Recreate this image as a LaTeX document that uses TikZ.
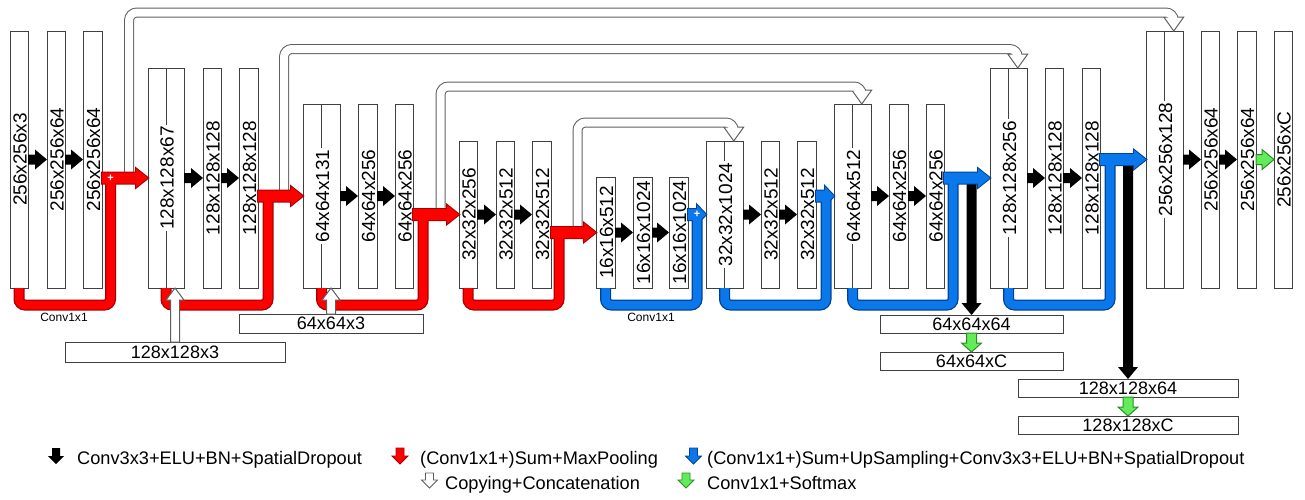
\documentclass[tikz,border=0pt]{standalone}
\usepackage{fontspec}
\setmainfont{Liberation Sans}
\usetikzlibrary{calc}
\definecolor{boxline}{RGB}{64,64,64}
\definecolor{skipline}{RGB}{95,95,95}
\definecolor{redf}{RGB}{255,0,0}
\definecolor{redo}{RGB}{165,0,0}
\definecolor{bluef}{RGB}{10,120,235}
\definecolor{blueo}{RGB}{0,65,150}
\definecolor{greenf}{RGB}{100,235,90}
\definecolor{greeno}{RGB}{40,140,40}
\tikzset{
  box/.style={draw=boxline, line width=1pt, fill=white, inner sep=0pt, outer sep=0pt},
  vlabel/.style={rotate=90, font=\fontsize{19}{20}\selectfont, inner sep=1.5pt},
  clabel/.style={vlabel, fill=white},
  hbox/.style={box, font=\fontsize{18}{20}\selectfont},
  legtext/.style={font=\fontsize{18.2}{20}\selectfont, anchor=base west, inner sep=0pt},
  smalltext/.style={font=\fontsize{12}{14}\selectfont, inner sep=0pt},
  plussign/.style={text=white, font=\fontsize{11}{11}\selectfont\bfseries, inner sep=0pt},
}
% vertical feature-map box
\newcommand\VB[5]{%
  \node[box, anchor=north west, minimum width={(#3-#2)*1pt}, minimum height={(288-#4)*1pt}] (#1) at (#2,#4) {};
  \node[vlabel] (#1-l) at ($(#1.center)+(1,0)$) {#5};}
% concatenated box (middle line)
\newcommand\CB[5]{%
  \node[box, anchor=north west, minimum width={(#3-#2)*1pt}, minimum height={(288-#4)*1pt}] (#1) at (#2,#4) {};
  \draw[boxline, line width=1pt] (#1.north) -- (#1.south);
  \node[clabel] (#1-l) at ($(#1.center)+(1,0)$) {#5};}
% horizontal fat arrow polygon: style, start, tip, shaft half, head half, head length
\newcommand\HPoly[6]{%
  \path (#2) coordinate (hp-s);
  \path (#3) coordinate (hp-t);
  \path[#1] ($(hp-s)+(0,-#4)$) -- ($(hp-t)+(-#6,-#4)$) -- ($(hp-t)+(-#6,-#5)$) -- (hp-t)
     -- ($(hp-t)+(-#6,#5)$) -- ($(hp-t)+(-#6,#4)$) -- ($(hp-s)+(0,#4)$) -- cycle;}
% downward fat arrow polygon
\newcommand\DPoly[6]{%
  \path (#2) coordinate (vp-s);
  \path (#3) coordinate (vp-t);
  \path[#1] ($(vp-s)+(-#4,0)$) -- ($(vp-t)+(-#4,-#6)$) -- ($(vp-t)+(-#5,-#6)$) -- (vp-t)
     -- ($(vp-t)+(#5,-#6)$) -- ($(vp-t)+(#4,-#6)$) -- ($(vp-s)+(#4,0)$) -- cycle;}
% upward fat arrow polygon
\newcommand\UPoly[6]{%
  \path (#2) coordinate (up-s);
  \path (#3) coordinate (up-t);
  \path[#1] ($(up-s)+(-#4,0)$) -- ($(up-t)+(-#4,#6)$) -- ($(up-t)+(-#5,#6)$) -- (up-t)
     -- ($(up-t)+(#5,#6)$) -- ($(up-t)+(#4,#6)$) -- ($(up-s)+(#4,0)$) -- cycle;}
% sum block: fill, outline, snake start node, from box, to box, x offset of riser, head length
\newcommand\SumBlock[7]{%
  \path (#4.east |- #5.west) coordinate (sb-s);
  \path (#5.west) coordinate (sb-t);
  \path ($(sb-s)+(#6,0)$) coordinate (sb-v);
  \HPoly{draw=#2, line width=2pt}{sb-s}{sb-t}{5.5}{9.5}{#7}
  \draw[#2, line width=11pt, rounded corners=6pt] (#3.south) -- ++(0,17) -| (sb-v);
  \HPoly{fill=#1}{sb-s}{sb-t}{5.5}{9.5}{#7}
  \draw[#1, line width=8.5pt, rounded corners=6pt] (#3.south) -- ++(0,17) -| (sb-v);}
% skip connection: start, top y, tip
\newcommand\Skip[3]{%
  \path (#1) coordinate (sk-s);
  \path (#3) coordinate (sk-t);
  \path ($(sk-t)+(0,-13)$) coordinate (sk-b);
  \draw[skipline, line width=10pt, rounded corners=8pt] (sk-s) |- (sk-b |- 0,#2) -- (sk-b);
  \path[fill=white, draw=skipline, line width=1pt] (sk-t) -- ($(sk-t)+(-10,-14)$) -- ($(sk-t)+(10,-14)$) -- cycle;
  \draw[white, line width=8pt, rounded corners=8pt] (sk-s) |- (sk-b |- 0,#2) -- (sk-b);}
\newcommand\BArr[2]{\HPoly{fill=black}{#1.east}{#2.west}{5}{10}{12}}

\begin{document}
\begin{tikzpicture}[x=1pt,y=-1pt]
\useasboundingbox (0,0) rectangle (1305,499);
% ---------- feature maps ----------
\VB{b1}{10}{28}{31}{256x256x3}
\VB{b2}{47}{65}{31}{256x256x64}
\VB{b3}{83}{102}{31}{256x256x64}
\CB{b4}{148}{184}{68}{128x128x67}
\VB{b5}{203}{221}{68}{128x128x128}
\VB{b6}{239}{258}{68}{128x128x128}
\CB{b7}{303}{340}{104}{64x64x131}
\VB{b8}{358}{377}{104}{64x64x256}
\VB{b9}{395}{413}{104}{64x64x256}
\VB{b10}{459}{477}{141}{32x32x256}
\VB{b11}{496}{514}{141}{32x32x512}
\VB{b12}{532}{551}{141}{32x32x512}
\VB{b13}{596}{615}{177}{16x16x512}
\VB{b14}{633}{652}{177}{16x16x1024}
\VB{b15}{669}{688}{177}{16x16x1024}
\CB{b16}{706}{743}{141}{32x32x1024}
\VB{b17}{761}{779}{141}{32x32x512}
\VB{b18}{797}{816}{141}{32x32x512}
\CB{b19}{834}{871}{104}{64x64x512}
\VB{b20}{889}{908}{104}{64x64x256}
\VB{b21}{926}{944}{104}{64x64x256}
\CB{b22}{990}{1027}{68}{128x128x256}
\VB{b23}{1045}{1063}{68}{128x128x128}
\VB{b24}{1082}{1100}{68}{128x128x128}
\CB{b25}{1146}{1183}{31}{256x256x128}
\VB{b26}{1201}{1219}{31}{256x256x64}
\VB{b27}{1237}{1256}{31}{256x256x64}
\VB{b28}{1274}{1292}{31}{256x256xC}
% ---------- input / output boxes ----------
\node[hbox, minimum width=220pt, minimum height=20pt] (i128) at (175,352) {128x128x3};
\node[hbox, minimum width=184pt, minimum height=19pt] (i64) at (331,323.5) {64x64x3};
\node[hbox, minimum width=183pt, minimum height=18pt] (o64) at (971.5,324) {64x64x64};
\node[hbox, minimum width=183pt, minimum height=18pt] (c64) at (971.5,361) {64x64xC};
\node[hbox, minimum width=220pt, minimum height=18pt] (o128) at (1128,388) {128x128x64};
\node[hbox, minimum width=220pt, minimum height=18pt] (c128) at (1128,425) {128x128xC};
% ---------- skip connections ----------
\path (b3.east |- b4.west) coordinate (As);
\path (b6.east |- b7.west) coordinate (Bs);
\path (b9.east |- b10.west) coordinate (Cs);
\path (b12.east |- b13.west) coordinate (Ds);
\Skip{$(As)+(27,0)$}{12.5}{$(b25.north)+(9.25,0)$}
\Skip{$(Bs)+(26,0)$}{49}{$(b22.north)+(9.25,0)$}
\Skip{$(Cs)+(27.5,0)$}{86.5}{$(b19.north)+(9.25,0)$}
\Skip{$(Ds)+(26.5,0)$}{122.5}{$(b16.north)+(9.25,0)$}
% ---------- deep supervision (black down) ----------
\DPoly{fill=black}{o64.north |- b22.west}{o64.north}{5}{10}{12}
\DPoly{fill=black}{o128.north |- b25.west}{o128.north}{5}{10}{12}
% ---------- sum blocks ----------
\SumBlock{redf}{redo}{b1}{b3}{b4}{8.5}{12}
\node[plussign] (plusA) at (sb-v) {+};
\SumBlock{redf}{redo}{b4}{b6}{b7}{10}{12}
\SumBlock{redf}{redo}{b7}{b9}{b10}{10}{12}
\SumBlock{redf}{redo}{b10}{b12}{b13}{8}{12}
\SumBlock{bluef}{blueo}{b13}{b15}{b16}{9}{9}
\node[plussign] (plusE) at (sb-v) {+};
\SumBlock{bluef}{blueo}{b16}{b18}{b19}{10}{9}
\SumBlock{bluef}{blueo}{b19}{b21}{b22}{9}{12}
\SumBlock{bluef}{blueo}{b22}{b24}{b25}{10}{12}
% ---------- input arrows (white up) ----------
\UPoly{fill=white, draw=skipline, line width=1pt}{i128.north}{i128.north |- b4.south}{4.5}{9}{12}
\UPoly{fill=white, draw=skipline, line width=1pt}{i64.north}{i64.north |- b7.south}{4.5}{9}{12}
% ---------- conv arrows ----------
\BArr{b1}{b2} \BArr{b2}{b3}
\BArr{b4}{b5} \BArr{b5}{b6}
\BArr{b7}{b8} \BArr{b8}{b9}
\BArr{b10}{b11} \BArr{b11}{b12}
\BArr{b13}{b14} \BArr{b14}{b15}
\BArr{b16}{b17} \BArr{b17}{b18}
\BArr{b19}{b20} \BArr{b20}{b21}
\BArr{b22}{b23} \BArr{b23}{b24}
\BArr{b25}{b26} \BArr{b26}{b27}
\HPoly{fill=greenf, draw=greeno, line width=1pt}{b27.east}{b28.west}{5}{10}{12}
\DPoly{fill=greenf, draw=greeno, line width=1pt}{o64.south}{c64.north}{5}{10}{9}
\DPoly{fill=greenf, draw=greeno, line width=1pt}{o128.south}{c128.north}{5}{10}{9}
% ---------- labels ----------
\node[smalltext] (convA) at (64,317) {Conv1x1};
\node[smalltext] (convE) at (651,317) {Conv1x1};
% ---------- legend ----------
\DPoly{fill=black}{56,448}{56,464}{4}{8}{8}
\node[legtext] (lg1) at (77,464) {Conv3x3+ELU+BN+SpatialDropout};
\DPoly{fill=redf, draw=redo, line width=0.8pt}{400,448}{400,464}{4}{8}{8}
\node[legtext] (lg2) at (420,464) {(Conv1x1+)Sum+MaxPooling};
\DPoly{fill=bluef, draw=blueo, line width=0.8pt}{693.5,448}{693.5,464}{4}{8}{8}
\node[legtext] (lg3) at (707,464) {(Conv1x1+)Sum+UpSampling+Conv3x3+ELU+BN+SpatialDropout};
\DPoly{fill=white, draw=skipline, line width=0.8pt}{429.5,473}{429.5,488}{4}{8}{8}
\node[legtext] (lg4) at (445,489) {Copying+Concatenation};
\DPoly{fill=greenf, draw=greeno, line width=0.8pt}{686,473}{686,488}{4}{8}{8}
\node[legtext] (lg5) at (707,489) {Conv1x1+Softmax};
\end{tikzpicture}
\end{document}
